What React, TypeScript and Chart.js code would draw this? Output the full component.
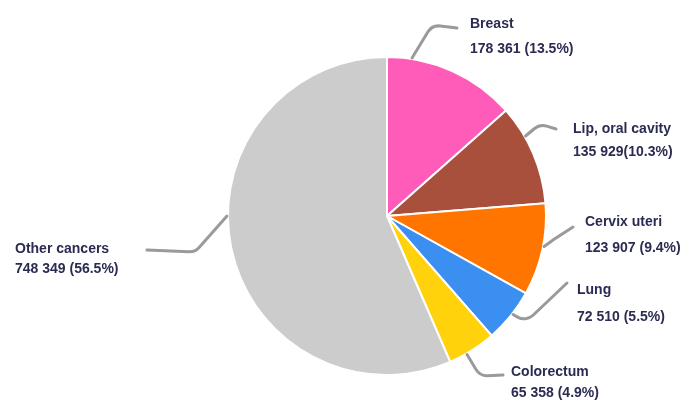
import React, { useEffect, useRef } from "react";
import { Chart, registerables } from "chart.js";

Chart.register(...registerables);

const categories = ["Breast", "Lip, oral cavity", "Cervix uteri", "Lung", "Colorectum", "Other cancers"];
const cases = [178361, 135929, 123907, 72510, 65358, 748349];
const valueLabels = ["178 361 (13.5%)", "135 929(10.3%)", "123 907 (9.4%)", "72 510 (5.5%)", "65 358 (4.9%)", "748 349 (56.5%)"];
const colors = ["#FF5CB9", "#A9503D", "#FF7500", "#3A8FF0", "#FFD20C", "#CCCCCC"];

// label layout (relative to pie centre): start angle (deg from top, clockwise), elbow, end, text x, text line centres
const labelLayout = [
  { angle: 9, elbow: [45, -191], end: [70, -188], tx: 83, ty: [-192, -167] },
  { angle: 60, elbow: [153, -92], end: [169, -87], tx: 186, ty: [-87, -64] },
  { angle: 101, elbow: [166, 24], end: [186, 11], tx: 198, ty: [6, 32] },
  { angle: 128, elbow: [139, 106], end: [180, 67], tx: 190, ty: [74, 101] },
  { angle: 150, elbow: [93, 160], end: [116, 159], tx: 124, ty: [156, 177] },
  { angle: 270, elbow: [-192, 36], end: [-240, 34], tx: -372, ty: [33, 53] },
];

const leaderPlugin = {
  id: "leaders",
  afterDatasetsDraw(chart: any) {
    const ctx = chart.ctx;
    const meta = chart.getDatasetMeta(0);
    const arc0 = meta.data[0];
    const cx = arc0.x;
    const cy = arc0.y;
    const r = arc0.outerRadius;
    ctx.save();
    labelLayout.forEach((l, i) => {
      const a = (l.angle * Math.PI) / 180;
      const sx = cx + (r + 1) * Math.sin(a);
      const sy = cy - (r + 1) * Math.cos(a);
      ctx.beginPath();
      ctx.strokeStyle = "#9a9a9a";
      ctx.lineWidth = 3;
      ctx.lineCap = "round";
      ctx.lineJoin = "round";
      ctx.moveTo(sx, sy);
      ctx.arcTo(cx + l.elbow[0], cy + l.elbow[1], cx + l.end[0], cy + l.end[1], 13);
      ctx.lineTo(cx + l.end[0], cy + l.end[1]);
      ctx.stroke();
      ctx.fillStyle = "#2b2b52";
      ctx.font = "bold 14px 'Liberation Sans', Arial, sans-serif";
      ctx.textAlign = "left";
      ctx.textBaseline = "middle";
      ctx.fillText(categories[i], cx + l.tx, cy + l.ty[0]);
      ctx.fillText(valueLabels[i], cx + l.tx, cy + l.ty[1]);
    });
    ctx.restore();
  },
};

export default function App() {
  const ref = useRef<HTMLCanvasElement>(null);
  useEffect(() => {
    if (!ref.current) return;
    const chart = new Chart(ref.current, {
      type: "pie",
      data: {
        labels: categories,
        datasets: [
          {
            data: cases,
            backgroundColor: colors,
            borderColor: "#ffffff",
            borderWidth: 2,
          },
        ],
      },
      options: {
        animation: false,
        responsive: false,
        layout: { padding: { left: 150, right: 71, top: 56, bottom: 30 } },
        plugins: {
          legend: { display: false },
          tooltip: { enabled: false },
        },
      },
      plugins: [leaderPlugin],
    });
    return () => chart.destroy();
  }, []);
  return (
    <div style={{ position: "fixed", left: 0, top: 0, width: 695, height: 406, background: "#fff" }}>
      <canvas ref={ref} width={695} height={406} style={{ width: 695, height: 406 }} />
    </div>
  );
}
